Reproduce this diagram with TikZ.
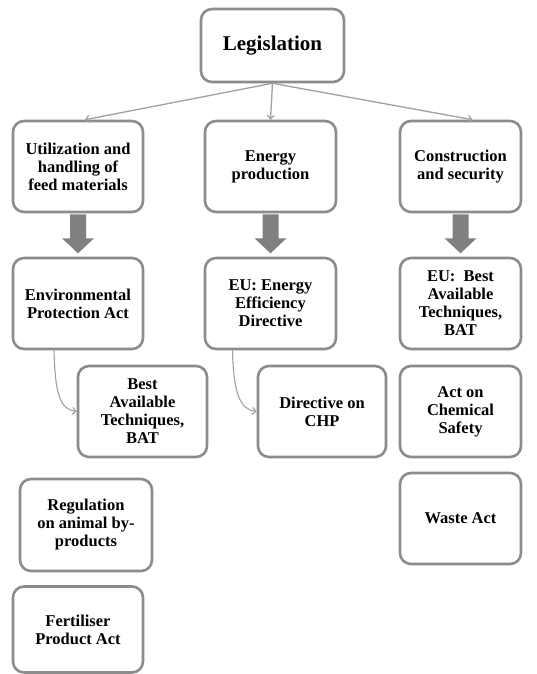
\documentclass[tikz,border=0pt]{standalone}
\usepackage{fontspec}
\setmainfont{Liberation Serif}
\usetikzlibrary{arrows.meta,calc}

\definecolor{boxline}{HTML}{8C8C8C}
\definecolor{thinline}{HTML}{A0A0A0}
\definecolor{fatgray}{HTML}{808080}

\tikzset{
  lawbox/.style={draw=boxline, line width=2.6pt, rounded corners=11pt,
    fill=white, align=center, inner sep=1pt,
    font=\fontsize{16.5}{18}\selectfont\bfseries},
  thinarrow/.style={draw=thinline, line width=1.3pt,
    -{Straight Barb[length=3.5pt,width=7pt]}},
  curvearrow/.style={draw=thinline, line width=1.1pt,
    -{Straight Barb[length=3.5pt,width=7pt]}},
  fatfill/.style={fill=fatgray}
}

% heavy downward arrow hanging below a node
\newcommand\fatdown[1]{%
  \fill[fatfill] ($(#1.south)+(-8,1)$) -- ($(#1.south)+(-8,25)$)
    -- ($(#1.south)+(-16,25)$) -- ($(#1.south)+(0,40)$)
    -- ($(#1.south)+(16,25)$) -- ($(#1.south)+(8,25)$)
    -- ($(#1.south)+(8,1)$) -- cycle;}

\begin{document}
\begin{tikzpicture}[x=1pt,y=-1pt]
\useasboundingbox (0,0) rectangle (537,674);

% top level
\node[lawbox, minimum width=143pt, minimum height=73pt,
  font=\fontsize{21}{24}\selectfont\bfseries] (leg) at (272.5,45.5) {Legislation};

% first row: fields of legislation
\node[lawbox, minimum width=130pt, minimum height=91pt] (util) at (78,166.5)
  {Utilization and\\handling of\\feed materials};
\node[lawbox, minimum width=131pt, minimum height=91pt] (energy) at (270.5,166.5)
  {Energy\\production};
\node[lawbox, minimum width=121pt, minimum height=91pt] (constr) at (460.5,166.5)
  {Construction\\and security};

% second row
\node[lawbox, minimum width=130pt, minimum height=91pt] (env) at (78,303.5)
  {Environmental\\Protection Act};
\node[lawbox, minimum width=131pt, minimum height=91pt] (eee) at (270.5,303.5)
  {EU: Energy\\Efficiency\\Directive};
\node[lawbox, minimum width=121pt, minimum height=91pt] (eubat) at (460.5,303.5)
  {EU:\ \ Best\\Available\\Techniques,\\BAT};

% third row
\node[lawbox, minimum width=129pt, minimum height=91pt] (bat) at (142.5,411.5)
  {Best\\Available\\Techniques,\\BAT};
\node[lawbox, minimum width=128pt, minimum height=91pt] (chp) at (322,411.5)
  {Directive on\\CHP};
\node[lawbox, minimum width=121pt, minimum height=91pt] (chem) at (460.5,411.5)
  {Act on\\Chemical\\Safety};

% lower boxes
\node[lawbox, minimum width=132pt, minimum height=92pt] (reg) at (86,525)
  {Regulation\\on animal by-\\products};
\node[lawbox, minimum width=121pt, minimum height=91pt] (waste) at (460.5,518.5)
  {Waste Act};
\node[lawbox, minimum width=130pt, minimum height=86pt] (fert) at (78,629.5)
  {Fertiliser\\Product Act};

% thin arrows from the top box
\draw[thinarrow] (leg.south) -- ([xshift=7pt]util.north);
\draw[thinarrow] (leg.south) -- (energy.north);
\draw[thinarrow] (leg.south) -- ([xshift=12pt]constr.north);

% heavy arrows between the first two rows
\fatdown{util}
\fatdown{energy}
\fatdown{constr}

% curved links into the third row
\draw[curvearrow] ([xshift=-24pt]env.south) .. controls +(1,45) and +(-16,-2) .. (bat.west);
\draw[curvearrow] ([xshift=-38pt]eee.south) .. controls +(1,45) and +(-16,-2) .. (chp.west);
\end{tikzpicture}
\end{document}
